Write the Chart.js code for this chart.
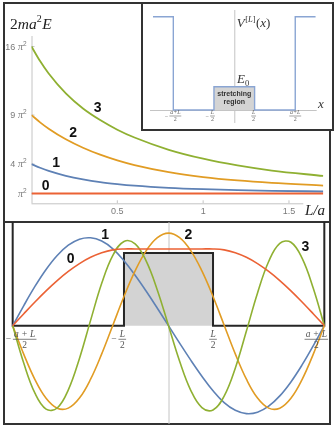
<!DOCTYPE html>
<html><head><meta charset="utf-8">
<script src="https://cdn.jsdelivr.net/npm/chart.js@4.4.1/dist/chart.umd.min.js"></script>
<style>
html,body{margin:0;padding:0;background:#fff;}
body{width:336px;height:429px;position:relative;overflow:hidden;}
.box{position:absolute;border:2px solid #333;box-sizing:border-box;}
canvas{position:absolute;left:0;top:0;}
</style></head><body>
<div class="box" style="left:3px;top:2px;width:328px;height:220.7px"></div>
<div class="box" style="left:3px;top:220.7px;width:328px;height:204.3px"></div>
<div class="box" style="left:141px;top:2px;width:193px;height:129px;background:#fff"></div>
<canvas id="cTop" width="336" height="429"></canvas>
<canvas id="cInset" width="336" height="429"></canvas>
<canvas id="cBot" width="336" height="429"></canvas>
<script>
// ---------- DATA ----------
// top panel: 2ma^2E (in units of pi^2) versus L/a
const lOverA  = [0, 0.05, 0.1, 0.2, 0.3, 0.4, 0.5, 0.6, 0.8, 1.0, 1.2, 1.4, 1.7];
const energy0 = [1, 1, 1, 1, 1, 1, 1, 1, 1, 1, 1, 1, 1];
const energy1 = [4, 3.63, 3.31, 2.81, 2.44, 2.16, 1.96, 1.80, 1.58, 1.44, 1.34, 1.275, 1.206];
const energy2 = [9, 8.26, 7.61, 6.53, 5.67, 4.96, 4.38, 3.90, 3.18, 2.68, 2.33, 2.08, 1.81];
const energy3 = [16, 14.51, 13.24, 11.21, 9.67, 8.49, 7.51, 6.71, 5.46, 4.55, 3.86, 3.34, 2.79];
const energyTicks = [1, 4, 9, 16];
const energyTickNums = ['', '4 ', '9 ', '16 '];
const lTicks = [0.5, 1, 1.5];
const lTickLabels = ['0.5', '1', '1.5'];
const stateNames = ['0', '1', '2', '3'];

// inset: potential V^[L](x)
const vX = [-1, -0.75, -0.75, -0.25, -0.25, 0.25, 0.25, 0.75, 0.75, 1];
const vY = [4, 4, 0, 0, 1, 1, 0, 0, 4, 4];
const vStretchX = [-0.25, 0.25];
const vStretchY = [1, 1];
const vTickVals = [-0.75, -0.25, 0.25, 0.75];
const vTickNums = ['a+L', 'L', 'L', 'a+L'];
const vTickNeg = [true, true, false, false];

// bottom panel: wavefunctions
const xPsi = [-0.7,-0.65,-0.6,-0.55,-0.5,-0.45,-0.4,-0.35,-0.3,-0.25,-0.2,-0.15,-0.1,-0.05,0,
              0.05,0.1,0.15,0.2,0.25,0.3,0.35,0.4,0.45,0.5,0.55,0.6,0.65,0.7];
const psi0 = [0,0.165,0.326,0.479,0.620,0.745,0.853,0.939,1.002,1.041,1.054,1.054,1.054,1.054,1.054,
              1.054,1.054,1.054,1.054,1.041,1.002,0.939,0.853,0.745,0.620,0.479,0.326,0.165,0];
const psi1 = [0,0.277,0.539,0.772,0.964,1.105,1.188,1.207,1.162,1.056,0.893,0.693,0.473,0.240,0,
              -0.240,-0.473,-0.693,-0.893,-1.056,-1.162,-1.207,-1.188,-1.105,-0.964,-0.772,-0.539,-0.277,0];
const psi2 = [0,-0.394,-0.740,-0.997,-1.133,-1.132,-0.994,-0.735,-0.387,0.007,0.401,0.752,1.031,1.209,1.271,
              1.209,1.031,0.752,0.401,0.007,-0.387,-0.735,-0.994,-1.132,-1.133,-0.997,-0.740,-0.394,0];
const psi3 = [0,-0.517,-0.927,-1.146,-1.130,-0.881,-0.450,0.073,0.583,0.967,1.157,1.124,0.887,0.488,0,
              -0.488,-0.887,-1.124,-1.157,-0.967,-0.583,-0.073,0.450,0.881,1.130,1.146,0.927,0.517,0];
const potX = [-0.7, -0.7, -0.2, -0.2, 0.2, 0.2, 0.7, 0.7];
const potY = [2, 0, 0, 1, 1, 0, 0, 2];
const potStretchX = [-0.2, 0.2];
const potStretchY = [1, 1];
const psiTickVals = [-0.7, -0.2, 0.2, 0.7];
const psiTickNums = ['a + L', 'L', 'L', 'a + L'];
const psiTickNeg = [true, true, false, false];

// ---------- STYLE ----------
const COL = {blue:'#5E81B5', orange:'#E19C24', green:'#8FB032', red:'#EB6235'};
const AXIS = '#c4c4c4';
const TICKTXT = '#7a7a7a';
const SANS = '"Liberation Sans", Arial, sans-serif';
const SERIF = '"Liberation Serif", "Times New Roman", serif';

function pts(xs, ys){ return xs.map((x, i) => ({x: x, y: ys[i]})); }
function rich(ctx, x, y, pieces){
  let cx = x;
  ctx.textAlign = 'left'; ctx.textBaseline = 'alphabetic';
  for (const p of pieces){
    ctx.font = p.font;
    ctx.fillText(p.t, cx, y + (p.dy || 0));
    cx += ctx.measureText(p.t).width + (p.sp || 0);
  }
  return cx - x;
}
function richWidth(ctx, pieces){
  let w = 0;
  for (const p of pieces){ ctx.font = p.font; w += ctx.measureText(p.t).width + (p.sp || 0); }
  return w;
}
function drawFrac(ctx, cx, barY, num, den, size, neg, color){
  ctx.save();
  ctx.fillStyle = color; ctx.strokeStyle = color;
  ctx.font = 'italic ' + size + 'px ' + SERIF;
  const w = Math.max(ctx.measureText(num).width, ctx.measureText(den).width) + size * 0.25;
  ctx.textAlign = 'center'; ctx.textBaseline = 'alphabetic';
  ctx.fillText(num, cx, barY - size * 0.25);
  ctx.font = size + 'px ' + SERIF;
  ctx.fillText(den, cx, barY + size * 0.87);
  ctx.lineWidth = Math.max(0.6, size / 13);
  ctx.beginPath(); ctx.moveTo(cx - w / 2, barY); ctx.lineTo(cx + w / 2, barY); ctx.stroke();
  if (neg){
    ctx.textAlign = 'right';
    ctx.fillText('\u2212', cx - w / 2 - size * 0.2, barY + size * 0.27);
  }
  ctx.restore();
}
const base = {
  responsive:false, animation:false, events:[],
  plugins:{legend:{display:false}, tooltip:{enabled:false}},
  elements:{point:{radius:0}, line:{fill:false}}
};

// ---------- TOP PANEL ----------
const topDecor = {
  id:'topDecor',
  beforeDatasetsDraw(chart){
    const {ctx, scales:{x, y}, chartArea:a} = chart;
    const x0 = x.getPixelForValue(0), y0 = y.getPixelForValue(0);
    ctx.save();
    ctx.strokeStyle = AXIS; ctx.lineWidth = 1;
    ctx.beginPath();
    ctx.moveTo(x0, y0 + 0.5); ctx.lineTo(a.right - 20, y0 + 0.5);
    ctx.moveTo(x0 + 0.5, y0); ctx.lineTo(x0 + 0.5, a.top);
    lTicks.forEach(v => { const p = x.getPixelForValue(v); ctx.moveTo(p, y0); ctx.lineTo(p, y0 - 3); });
    energyTicks.forEach(v => { const p = y.getPixelForValue(v); ctx.moveTo(x0, p); ctx.lineTo(x0 + 3, p); });
    ctx.stroke();
    ctx.fillStyle = TICKTXT;
    ctx.font = '9px ' + SANS; ctx.textAlign = 'center'; ctx.textBaseline = 'middle';
    lTicks.forEach((v, i) => ctx.fillText(lTickLabels[i], x.getPixelForValue(v), y0 + 8.5));
    energyTicks.forEach((v, i) => {
      const p = y.getPixelForValue(v);
      const pieces = [
        {t: energyTickNums[i], font: '9px ' + SANS},
        {t: '\u03c0', font: 'italic 10px ' + SERIF},
        {t: '2', font: '6.5px ' + SANS, dy: -4}
      ];
      const w = richWidth(ctx, pieces);
      rich(ctx, x0 - 5 - w, p + 3.3, pieces);
    });
    ctx.restore();
  },
  afterDatasetsDraw(chart){
    const {ctx, scales:{x, y}} = chart;
    ctx.save();
    ctx.fillStyle = '#111';
    ctx.font = 'bold 14px ' + SANS; ctx.textAlign = 'center'; ctx.textBaseline = 'middle';
    const lab = [[0.083, 1.80], [0.143, 4.11], [0.242, 7.17], [0.386, 9.72]];
    lab.forEach((p, i) => ctx.fillText(stateNames[i], x.getPixelForValue(p[0]), y.getPixelForValue(p[1])));
    ctx.fillStyle = '#222';
    rich(ctx, 10, 29, [
      {t:'2', font: '15.5px ' + SERIF},
      {t:'ma', font: 'italic 15.5px ' + SERIF},
      {t:'2', font: '10px ' + SERIF, dy: -7, sp: 0.5},
      {t:'E', font: 'italic 15.5px ' + SERIF}
    ]);
    ctx.font = 'italic 15px ' + SERIF; ctx.textAlign = 'left'; ctx.textBaseline = 'alphabetic';
    ctx.fillText('L/a', 305, 215);
    ctx.restore();
  }
};
new Chart(document.getElementById('cTop'), {
  type:'line',
  data:{datasets:[
    {data: pts(lOverA, energy0), borderColor: COL.red, order: 1},
    {data: pts(lOverA, energy1), borderColor: COL.blue, order: 4},
    {data: pts(lOverA, energy2), borderColor: COL.orange, order: 3},
    {data: pts(lOverA, energy3), borderColor: COL.green, order: 2}
  ]},
  options: Object.assign({}, base, {
    layout:{padding:{left:31.5, right:12.7, top:36, bottom:225.7}},
    scales:{x:{type:'linear', min:0, max:1.7, display:false},
            y:{type:'linear', min:0, max:17.07, display:false}},
    elements:{point:{radius:0}, line:{fill:false, borderWidth:1.8, cubicInterpolationMode:'monotone'}}
  }),
  plugins:[topDecor]
});

// ---------- INSET ----------
const insetDecor = {
  id:'insetDecor',
  beforeDatasetsDraw(chart){
    const {ctx, scales:{x, y}, chartArea:a} = chart;
    const x0 = x.getPixelForValue(0), y0 = y.getPixelForValue(0);
    ctx.save();
    ctx.strokeStyle = AXIS; ctx.lineWidth = 1;
    ctx.beginPath();
    ctx.moveTo(a.left, y0 + 0.5); ctx.lineTo(a.right, y0 + 0.5);
    ctx.moveTo(x0 + 0.5, a.top); ctx.lineTo(x0 + 0.5, a.bottom);
    ctx.stroke();
    ctx.restore();
  },
  afterDatasetsDraw(chart){
    const {ctx, scales:{x, y}} = chart;
    const x0 = x.getPixelForValue(0), y0 = y.getPixelForValue(0);
    ctx.save();
    const dx = [2, -1.5, -1, 0];
    vTickVals.forEach((v, i) => drawFrac(ctx, x.getPixelForValue(v) + dx[i], y0 + 6, vTickNums[i], '2', 6, vTickNeg[i], '#666'));
    ctx.fillStyle = '#333';
    ctx.font = 'bold 7px ' + SANS; ctx.textAlign = 'center'; ctx.textBaseline = 'middle';
    ctx.fillText('stretching', x0, y.getPixelForValue(0.69));
    ctx.fillText('region', x0, y.getPixelForValue(0.36));
    rich(ctx, x0 + 2.4, y.getPixelForValue(3.56), [
      {t:'V', font:'italic 13px ' + SERIF, sp: 0.5},
      {t:'[', font:'8.5px ' + SERIF, dy:-5},
      {t:'L', font:'italic 8.5px ' + SERIF, dy:-5},
      {t:']', font:'8.5px ' + SERIF, dy:-5, sp: 0.5},
      {t:'(', font:'13px ' + SERIF},
      {t:'x', font:'italic 13px ' + SERIF},
      {t:')', font:'13px ' + SERIF}
    ]);
    rich(ctx, x0 + 2.7, y.getPixelForValue(1.15), [
      {t:'E', font:'italic 13px ' + SERIF},
      {t:'0', font:'8.5px ' + SERIF, dy: 3}
    ]);
    ctx.font = 'italic 13px ' + SERIF; ctx.textAlign = 'left'; ctx.textBaseline = 'alphabetic';
    ctx.fillText('x', x.getPixelForValue(1.03), y0 - 2);
    ctx.restore();
  }
};
new Chart(document.getElementById('cInset'), {
  type:'line',
  data:{datasets:[
    {data: pts(vX, vY), borderColor:'#8aa5d3', borderWidth:1.4, tension:0, order:1},
    {data: pts(vStretchX, vStretchY), borderWidth:0, borderColor:'rgba(0,0,0,0)',
     backgroundColor:'#d4d4d4', fill:'origin', tension:0, order:2}
  ]},
  options: Object.assign({}, base, {
    layout:{padding:{left:150, right:19.3, top:10, bottom:306}},
    scales:{x:{type:'linear', min:-1.037, max:1.014, display:false},
            y:{type:'linear', min:-0.558, max:4.29, display:false}}
  }),
  plugins:[insetDecor]
});

// ---------- BOTTOM PANEL ----------
const botDecor = {
  id:'botDecor',
  beforeDatasetsDraw(chart){
    const {ctx, scales:{x}, chartArea:a} = chart;
    const x0 = x.getPixelForValue(0);
    ctx.save();
    ctx.strokeStyle = AXIS; ctx.lineWidth = 1;
    ctx.beginPath(); ctx.moveTo(x0 + 0.5, a.top); ctx.lineTo(x0 + 0.5, a.bottom); ctx.stroke();
    ctx.restore();
  },
  afterDatasetsDraw(chart){
    const {ctx, scales:{x, y}} = chart;
    const y0 = y.getPixelForValue(0);
    ctx.save();
    const dx = [12, -1.7, 0, -8];
    psiTickVals.forEach((v, i) => drawFrac(ctx, x.getPixelForValue(v) + dx[i], y0 + 13.6, psiTickNums[i], '2', 9.5, psiTickNeg[i], '#555'));
    ctx.fillStyle = '#111';
    ctx.font = 'bold 14px ' + SANS; ctx.textAlign = 'center'; ctx.textBaseline = 'middle';
    const lab = [[-0.44, 0.912], [-0.285, 1.244], [0.089, 1.244], [0.615, 1.08]];
    lab.forEach((p, i) => ctx.fillText(stateNames[i], x.getPixelForValue(p[0]), y.getPixelForValue(p[1])));
    ctx.restore();
  }
};
new Chart(document.getElementById('cBot'), {
  type:'line',
  data:{datasets:[
    {data: pts(xPsi, psi0), borderColor: COL.red, order: 1},
    {data: pts(xPsi, psi3), borderColor: COL.green, order: 2},
    {data: pts(xPsi, psi2), borderColor: COL.orange, order: 3},
    {data: pts(xPsi, psi1), borderColor: COL.blue, order: 4},
    {data: pts(potX, potY), borderColor:'#262626', borderWidth:2, tension:0, order:5},
    {data: pts(potStretchX, potStretchY), borderWidth:0, borderColor:'rgba(0,0,0,0)',
     backgroundColor:'#d3d3d3', fill:'origin', tension:0, order:6}
  ]},
  options: Object.assign({}, base, {
    layout:{padding:{left:5, right:4, top:222, bottom:5}},
    scales:{x:{type:'linear', min:-0.7345, max:0.7345, display:false},
            y:{type:'linear', min:-1.35, max:1.424, display:false}},
    elements:{point:{radius:0}, line:{fill:false, borderWidth:1.6, tension:0.4}}
  }),
  plugins:[botDecor]
});
</script>
</body></html>
